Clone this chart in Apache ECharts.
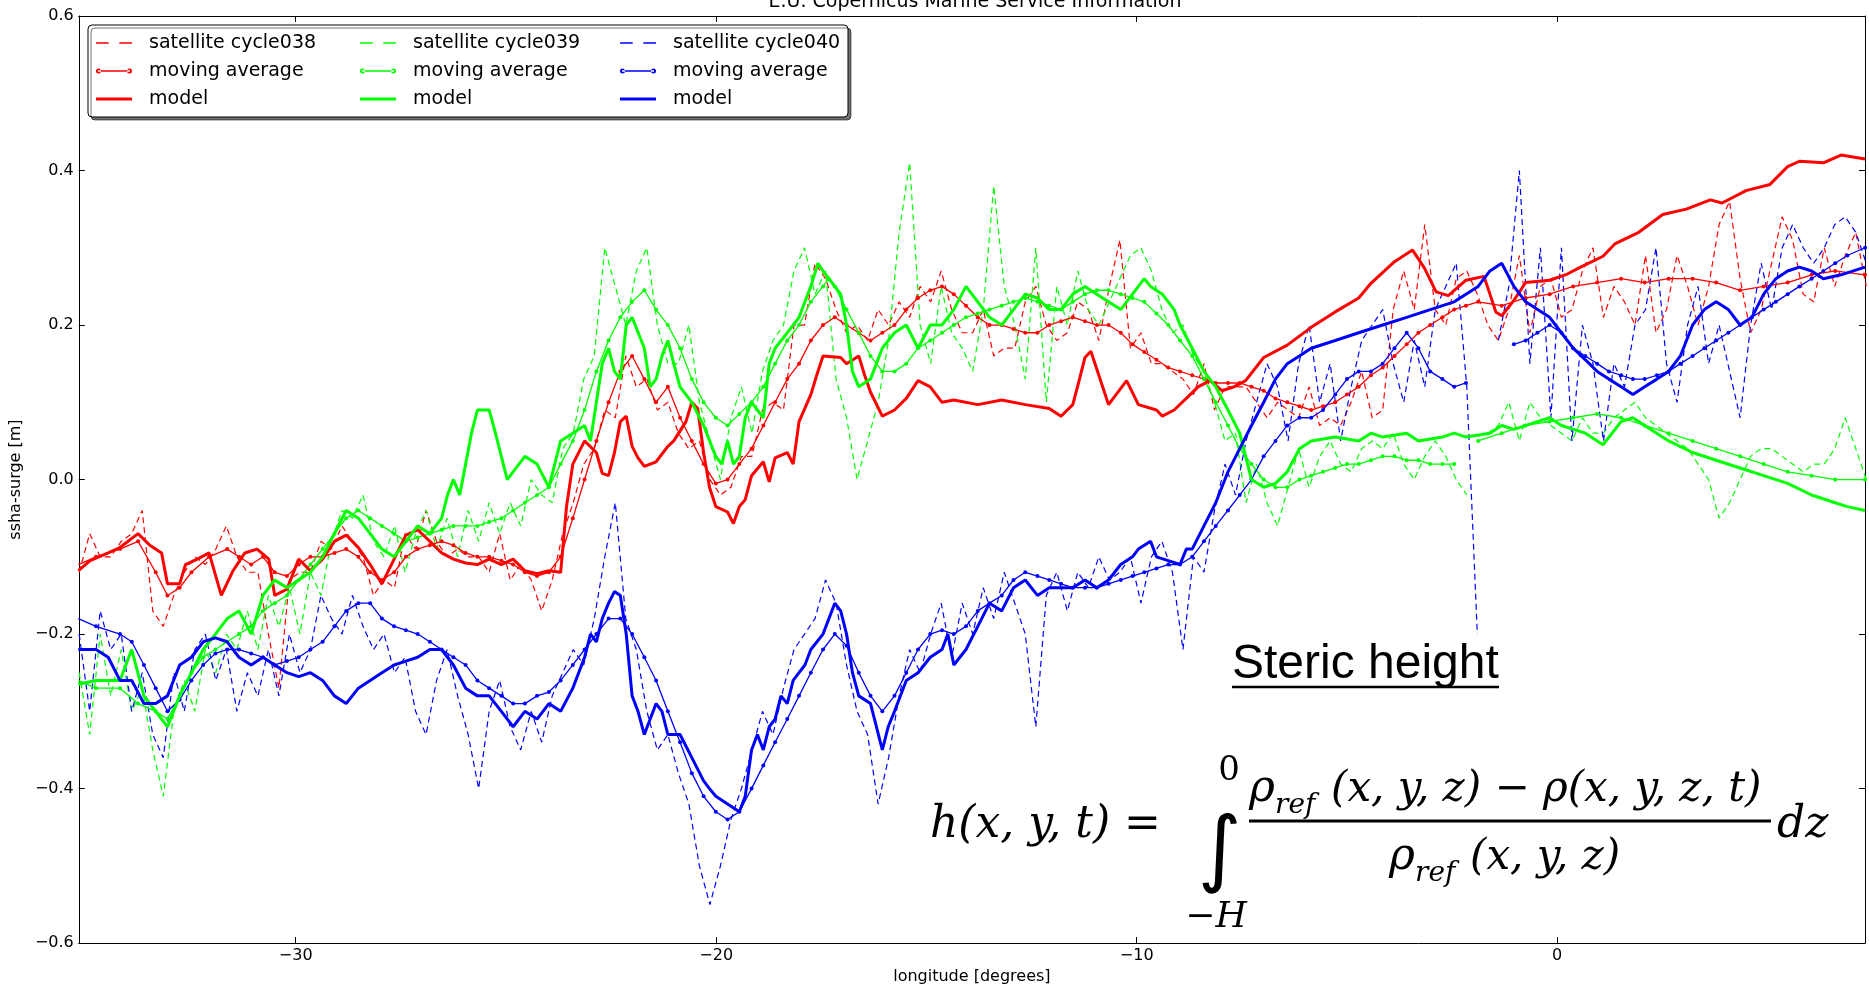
<!DOCTYPE html>
<html><head><meta charset="utf-8">
<script src="https://cdn.jsdelivr.net/npm/echarts@6/dist/echarts.min.js"></script>
<style>html,body{margin:0;padding:0;background:#fff}#c{width:1869px;height:990px}</style>
</head><body><div id="c"></div>
<script>
// shared along-track longitudes of the satellite samples
const trackLon = [
-35.15,-34.9,-34.65,-34.4,-34.15,-33.9,-33.65,-33.4,-33.15,-32.9,
-32.65,-32.4,-32.15,-31.9,-31.65,-31.4,-31.15,-30.9,-30.65,-30.4,
-30.15,-29.9,-29.65,-29.4,-29.15,-28.9,-28.65,-28.4,-28.15,-27.9,
-27.65,-27.4,-27.15,-26.9,-26.65,-26.4,-26.15,-25.9,-25.65,-25.4,
-25.15,-24.9,-24.65,-24.4,-24.15,-23.9,-23.65,-23.4,-23.15,-22.9,
-22.65,-22.4,-22.15,-21.9,-21.65,-21.4,-21.15,-20.9,-20.65,-20.4,
-20.15,-19.9,-19.65,-19.4,-19.15,-18.9,-18.65,-18.4,-18.15,-17.9,
-17.65,-17.4,-17.15,-16.9,-16.65,-16.4,-16.15,-15.9,-15.65,-15.4,
-15.15,-14.9,-14.65,-14.4,-14.15,-13.9,-13.65,-13.4,-13.15,-12.9,
-12.65,-12.4,-12.15,-11.9,-11.65,-11.4,-11.15,-10.9,-10.65,-10.4,
-10.15,-9.9,-9.65,-9.4,-9.15,-8.9,-8.65,-8.4,-8.15,-7.9,
-7.65,-7.4,-7.15,-6.9,-6.65,-6.4,-6.15,-5.9,-5.65,-5.4,
-5.15,-4.9,-4.65,-4.4,-4.15,-3.9,-3.65,-3.4,-3.15,-2.9,
-2.65,-2.4,-2.15,-1.9,-1.65,-1.4,-1.15,-0.9,-0.65,-0.4,
-0.15,0.1,0.35,0.6,0.85,1.1,1.35,1.6,1.85,2.1,
2.35,2.6,2.85,3.1,3.35,3.6,3.85,4.1,4.35,4.6,
4.85,5.1,5.35,5.6,5.85,6.1,6.35,6.6,6.85,7.1,
7.35];

const sat038 = [
-0.12,-0.07,-0.1,-0.1,-0.08,-0.07,-0.04,-0.17,-0.19,-0.15,
-0.12,-0.1,-0.11,-0.09,-0.06,-0.1,-0.12,-0.12,-0.2,-0.27,
-0.13,-0.12,-0.12,-0.08,-0.09,-0.06,-0.08,-0.1,-0.15,-0.13,
-0.14,-0.07,-0.09,-0.04,-0.08,-0.1,-0.09,-0.1,-0.1,-0.12,
-0.07,-0.13,-0.11,-0.13,-0.17,-0.13,-0.07,-0.03,0.02,0.04,
0.09,0.08,0.16,0.12,0.13,0.09,0.1,0.06,0.04,0.05,
0.0,-0.02,-0.01,0.03,0.03,0.09,0.1,0.09,0.2,0.2,
0.28,0.26,0.22,0.19,0.2,0.18,0.22,0.2,0.23,0.21,
0.25,0.23,0.27,0.22,0.19,0.19,0.22,0.16,0.17,0.17,
0.23,0.25,0.2,0.18,0.19,0.23,0.22,0.18,0.25,0.31,
0.17,0.19,0.15,0.15,0.14,0.13,0.11,0.15,0.09,0.12,
0.12,0.12,0.1,0.08,0.1,0.09,0.08,0.12,0.07,0.08,
0.07,0.1,0.14,0.08,0.09,0.22,0.27,0.22,0.33,0.22,
0.2,0.26,0.27,0.24,0.2,0.18,0.22,0.29,0.19,0.25,
0.26,0.21,0.22,0.27,0.3,0.21,0.25,0.23,0.2,0.29,
0.19,0.22,0.29,0.25,0.2,0.25,0.33,0.36,0.26,0.19,
0.22,0.28,0.34,0.31,0.24,0.23,0.3,0.25,0.29,0.32,
0.25];

const sat039 = [
-0.25,-0.33,-0.2,-0.28,-0.22,-0.3,-0.27,-0.35,-0.41,-0.3,
-0.26,-0.3,-0.22,-0.25,-0.2,-0.22,-0.17,-0.22,-0.15,-0.19,
-0.14,-0.2,-0.12,-0.15,-0.08,-0.04,-0.05,-0.02,-0.08,-0.1,
-0.06,-0.12,-0.07,-0.04,-0.09,-0.05,-0.1,-0.04,-0.08,-0.03,
-0.07,-0.03,-0.06,0.0,-0.02,-0.03,0.04,0.06,0.13,0.16,
0.3,0.25,0.2,0.27,0.3,0.2,0.15,0.15,0.2,0.1,
0.05,0.0,0.08,0.12,0.06,0.14,0.18,0.2,0.27,0.3,
0.24,0.27,0.13,0.08,0.0,0.05,0.1,0.18,0.32,0.41,
0.2,0.15,0.25,0.19,0.17,0.14,0.22,0.38,0.25,0.2,
0.13,0.3,0.1,0.25,0.2,0.27,0.22,0.2,0.23,0.26,
0.29,0.3,0.27,0.22,0.19,0.2,0.16,0.14,0.1,0.05,
0.06,-0.03,0.02,-0.03,-0.06,-0.01,0.04,-0.01,0.03,0.05,
0.02,0.01,0.04,0.05,0.04,0.06,0.02,0.0,0.03,0.05,
0.03,0.0,-0.02,null,0.06,0.07,0.1,0.05,0.1,0.08,
0.07,0.06,0.05,0.08,0.06,0.06,0.08,0.09,0.1,0.08,
0.07,0.06,0.05,0.04,0.02,0.0,-0.05,-0.03,0.0,0.03,
0.04,0.04,0.03,0.02,0.01,0.02,0.02,0.04,0.08,0.04,
0.0];

const sat040 = [
-0.2,-0.3,-0.17,-0.22,-0.2,-0.3,-0.25,-0.33,-0.36,-0.25,
-0.3,-0.22,-0.2,-0.26,-0.22,-0.3,-0.25,-0.28,-0.22,-0.28,
-0.2,-0.25,-0.22,-0.15,-0.18,-0.2,-0.15,-0.19,-0.22,-0.2,
-0.25,-0.23,-0.3,-0.33,-0.26,-0.22,-0.28,-0.33,-0.4,-0.3,
-0.26,-0.32,-0.35,-0.3,-0.34,-0.28,-0.25,-0.22,-0.24,-0.18,
-0.1,-0.03,-0.18,-0.22,-0.3,-0.35,-0.33,-0.38,-0.42,-0.5,
-0.55,-0.5,-0.44,-0.4,-0.35,-0.3,-0.33,-0.27,-0.22,-0.2,
-0.18,-0.13,-0.16,-0.24,-0.3,-0.33,-0.42,-0.36,-0.28,-0.22,
-0.25,-0.2,-0.16,-0.23,-0.16,-0.2,-0.14,-0.18,-0.12,-0.16,
-0.2,-0.32,-0.15,-0.12,-0.17,-0.12,-0.14,-0.1,-0.13,-0.12,
-0.1,-0.16,-0.1,-0.08,-0.12,-0.22,-0.1,-0.12,-0.04,0.02,
-0.02,0.05,0.1,0.15,0.12,0.05,0.15,0.2,0.1,0.15,
0.05,0.12,0.18,0.2,0.22,0.15,0.1,0.18,0.12,0.22,
0.25,0.28,0.12,-0.2,null,0.18,0.25,0.4,0.15,0.3,
0.08,0.3,0.05,0.2,0.15,0.05,0.15,0.12,0.2,0.22,
0.3,0.15,0.1,0.2,0.25,0.15,0.2,0.14,0.08,0.2,
0.28,0.22,0.3,0.33,0.3,0.28,0.3,0.33,0.34,0.32,
0.28];

const ma038 = [[-35.17,-0.11],[-34.75,-0.1],[-34.18,-0.09],[-33.75,-0.08],[-33.33,-0.12],[-33.05,-0.15],[-32.76,-0.14],[-32.48,-0.12],[-32.06,-0.1],[-31.63,-0.09],[-31.35,-0.1],[-31.06,-0.11],[-30.78,-0.1],[-30.5,-0.12],[-30.21,-0.125],[-29.93,-0.11],[-29.65,-0.1],[-29.36,-0.1],[-29.08,-0.095],[-28.8,-0.09],[-28.51,-0.1],[-28.23,-0.12],[-27.95,-0.13],[-27.66,-0.12],[-27.38,-0.1],[-27.1,-0.09],[-26.81,-0.085],[-26.53,-0.08],[-26.25,-0.085],[-25.96,-0.095],[-25.68,-0.1],[-25.4,-0.1],[-25.11,-0.105],[-24.83,-0.11],[-24.55,-0.12],[-24.26,-0.125],[-23.98,-0.12],[-23.7,-0.1],[-23.41,-0.05],[-23.13,0.0],[-22.85,0.05],[-22.56,0.1],[-22.28,0.14],[-22.0,0.16],[-21.71,0.13],[-21.43,0.1],[-21.15,0.12],[-20.86,0.08],[-20.58,0.05],[-20.3,0.02],[-20.01,-0.005],[-19.73,0.0],[-19.45,0.02],[-19.16,0.04],[-18.88,0.07],[-18.6,0.1],[-18.31,0.13],[-18.03,0.15],[-17.75,0.18],[-17.46,0.2],[-17.18,0.21],[-16.9,0.2],[-16.61,0.19],[-16.33,0.18],[-16.05,0.19],[-15.76,0.2],[-15.48,0.22],[-15.2,0.235],[-14.91,0.245],[-14.63,0.25],[-14.35,0.24],[-14.06,0.225],[-13.78,0.21],[-13.5,0.2],[-13.21,0.2],[-12.93,0.195],[-12.65,0.19],[-12.36,0.19],[-12.08,0.2],[-11.8,0.205],[-11.52,0.21],[-11.23,0.205],[-10.95,0.2],[-10.67,0.2],[-10.38,0.19],[-10.1,0.175],[-9.82,0.165],[-9.53,0.155],[-9.25,0.145],[-8.97,0.14],[-8.68,0.135],[-8.4,0.13],[-8.12,0.125],[-7.83,0.125],[-7.55,0.125],[-7.27,0.12],[-6.98,0.115],[-6.7,0.105],[-6.42,0.1],[-6.13,0.095],[-5.85,0.09],[-5.57,0.095],[-5.28,0.1],[-5.0,0.11],[-4.72,0.12],[-4.43,0.135],[-4.15,0.145],[-3.87,0.16],[-3.58,0.175],[-3.3,0.19],[-3.02,0.2],[-2.73,0.21],[-2.45,0.22],[-2.17,0.225],[-1.88,0.23],[-1.32,0.225],[-0.75,0.235],[-0.18,0.24],[0.38,0.25],[0.95,0.255],[1.52,0.26],[2.08,0.255],[2.65,0.26],[3.22,0.26],[3.78,0.255],[4.35,0.245],[4.91,0.25],[5.48,0.255],[6.05,0.265],[6.61,0.27],[7.32,0.265]];

const ma039 = [[-35.17,-0.26],[-34.75,-0.27],[-34.18,-0.27],[-33.75,-0.29],[-33.33,-0.3],[-33.05,-0.31],[-32.76,-0.28],[-32.48,-0.25],[-32.2,-0.23],[-31.91,-0.22],[-31.63,-0.21],[-31.35,-0.2],[-31.06,-0.19],[-30.78,-0.17],[-30.5,-0.16],[-30.21,-0.15],[-29.93,-0.13],[-29.65,-0.11],[-29.36,-0.09],[-29.08,-0.07],[-28.8,-0.05],[-28.51,-0.04],[-28.23,-0.05],[-27.95,-0.06],[-27.66,-0.07],[-27.38,-0.08],[-27.1,-0.075],[-26.81,-0.07],[-26.53,-0.065],[-26.25,-0.06],[-25.96,-0.06],[-25.68,-0.06],[-25.4,-0.055],[-25.11,-0.05],[-24.83,-0.04],[-24.55,-0.03],[-24.26,-0.02],[-23.98,-0.01],[-23.7,0.02],[-23.41,0.05],[-23.13,0.09],[-22.85,0.14],[-22.56,0.18],[-22.28,0.21],[-22.0,0.23],[-21.71,0.245],[-21.43,0.22],[-21.15,0.2],[-20.86,0.17],[-20.58,0.13],[-20.3,0.1],[-20.01,0.08],[-19.73,0.07],[-19.45,0.085],[-19.16,0.1],[-18.88,0.12],[-18.6,0.15],[-18.31,0.18],[-18.03,0.2],[-17.75,0.23],[-17.46,0.25],[-17.32,0.26],[-17.18,0.25],[-16.9,0.22],[-16.61,0.19],[-16.33,0.16],[-16.05,0.14],[-15.76,0.14],[-15.48,0.15],[-15.2,0.17],[-14.91,0.18],[-14.63,0.19],[-14.35,0.2],[-14.06,0.21],[-13.78,0.215],[-13.5,0.22],[-13.21,0.225],[-12.93,0.23],[-12.65,0.235],[-12.36,0.23],[-12.08,0.225],[-11.8,0.22],[-11.52,0.23],[-11.23,0.24],[-10.95,0.245],[-10.67,0.245],[-10.38,0.24],[-10.1,0.235],[-9.82,0.23],[-9.53,0.215],[-9.25,0.2],[-8.97,0.18],[-8.68,0.16],[-8.4,0.13],[-8.12,0.1],[-7.83,0.07],[-7.55,0.04],[-7.27,0.02],[-6.98,0.0],[-6.7,-0.01],[-6.42,-0.01],[-6.13,0.0],[-5.85,0.005],[-5.57,0.01],[-5.28,0.015],[-5.0,0.02],[-4.72,0.02],[-4.43,0.025],[-4.15,0.03],[-3.87,0.03],[-3.58,0.025],[-3.3,0.025],[-3.02,0.02],[-2.73,0.02],[-2.45,0.02],[-2.2,null],[-1.88,0.05],[-1.32,0.06],[-0.75,0.07],[-0.18,0.075],[0.38,0.08],[0.95,0.085],[1.52,0.08],[2.08,0.07],[2.65,0.06],[3.22,0.05],[3.78,0.04],[4.35,0.03],[4.91,0.02],[5.48,0.01],[6.05,0.005],[6.61,0.0],[7.32,0.0]];

const ma040 = [[-35.17,-0.18],[-34.75,-0.19],[-34.18,-0.2],[-33.9,-0.21],[-33.61,-0.24],[-33.33,-0.27],[-33.05,-0.3],[-32.76,-0.285],[-32.48,-0.26],[-32.2,-0.24],[-31.91,-0.225],[-31.63,-0.22],[-31.35,-0.22],[-31.06,-0.225],[-30.78,-0.23],[-30.5,-0.24],[-30.21,-0.235],[-29.93,-0.23],[-29.65,-0.22],[-29.36,-0.21],[-29.08,-0.19],[-28.8,-0.17],[-28.51,-0.16],[-28.23,-0.16],[-27.95,-0.18],[-27.66,-0.19],[-27.38,-0.195],[-27.1,-0.2],[-26.81,-0.21],[-26.53,-0.22],[-26.25,-0.23],[-25.96,-0.24],[-25.68,-0.26],[-25.4,-0.27],[-25.11,-0.28],[-24.83,-0.29],[-24.55,-0.29],[-24.26,-0.28],[-23.98,-0.275],[-23.7,-0.26],[-23.41,-0.24],[-23.13,-0.22],[-22.85,-0.2],[-22.56,-0.18],[-22.28,-0.18],[-22.0,-0.2],[-21.71,-0.23],[-21.43,-0.26],[-21.15,-0.3],[-20.86,-0.34],[-20.58,-0.38],[-20.3,-0.41],[-20.01,-0.43],[-19.73,-0.44],[-19.45,-0.43],[-19.16,-0.4],[-18.88,-0.37],[-18.6,-0.34],[-18.31,-0.31],[-18.03,-0.28],[-17.75,-0.25],[-17.46,-0.22],[-17.18,-0.2],[-16.9,-0.215],[-16.61,-0.25],[-16.33,-0.28],[-16.05,-0.3],[-15.76,-0.28],[-15.48,-0.25],[-15.2,-0.22],[-14.91,-0.2],[-14.63,-0.195],[-14.35,-0.2],[-14.06,-0.19],[-13.78,-0.17],[-13.5,-0.16],[-13.21,-0.15],[-12.93,-0.13],[-12.65,-0.12],[-12.36,-0.125],[-12.08,-0.13],[-11.8,-0.135],[-11.52,-0.14],[-11.23,-0.14],[-10.95,-0.14],[-10.67,-0.135],[-10.38,-0.13],[-10.1,-0.125],[-9.82,-0.12],[-9.53,-0.115],[-9.25,-0.11],[-8.97,-0.11],[-8.68,-0.1],[-8.4,-0.08],[-8.12,-0.06],[-7.83,-0.04],[-7.55,-0.02],[-7.27,0.0],[-6.98,0.03],[-6.7,0.05],[-6.42,0.07],[-6.13,0.08],[-5.85,0.08],[-5.57,0.09],[-5.28,0.11],[-5.0,0.13],[-4.72,0.14],[-4.43,0.14],[-4.15,0.15],[-3.87,0.17],[-3.58,0.19],[-3.3,0.17],[-3.02,0.14],[-2.73,0.13],[-2.45,0.12],[-2.17,0.125],[-1.6,null],[-1.03,0.175],[-0.75,0.18],[-0.47,0.19],[-0.18,0.2],[0.1,0.19],[0.38,0.17],[0.67,0.16],[0.95,0.15],[1.23,0.14],[1.52,0.135],[1.8,0.13],[2.08,0.13],[2.37,0.135],[2.65,0.14],[2.93,0.15],[3.22,0.16],[3.5,0.17],[3.78,0.18],[4.07,0.19],[4.35,0.2],[4.63,0.21],[4.91,0.22],[5.2,0.23],[5.48,0.24],[5.76,0.25],[6.05,0.26],[6.33,0.27],[6.61,0.28],[6.9,0.29],[7.32,0.3]];

const model038 = [[-35.17,-0.118],[-34.89,-0.105],[-34.46,-0.095],[-34.18,-0.088],[-33.75,-0.07],[-33.47,-0.085],[-33.19,-0.095],[-33.05,-0.135],[-32.76,-0.135],[-32.62,-0.11],[-32.34,-0.103],[-32.06,-0.095],[-31.77,-0.15],[-31.49,-0.118],[-31.21,-0.095],[-30.92,-0.09],[-30.64,-0.103],[-30.5,-0.15],[-30.21,-0.142],[-29.93,-0.103],[-29.65,-0.118],[-29.36,-0.103],[-29.08,-0.08],[-28.8,-0.072],[-28.51,-0.088],[-28.23,-0.11],[-27.95,-0.135],[-27.66,-0.103],[-27.38,-0.072],[-27.1,-0.065],[-26.81,-0.08],[-26.53,-0.095],[-26.25,-0.103],[-25.96,-0.108],[-25.68,-0.11],[-25.4,-0.103],[-25.11,-0.11],[-24.83,-0.103],[-24.55,-0.118],[-24.26,-0.122],[-23.98,-0.118],[-23.7,-0.12],[-23.56,-0.035],[-23.41,0.02],[-23.13,0.05],[-22.85,0.035],[-22.71,0.008],[-22.56,0.005],[-22.42,0.035],[-22.28,0.075],[-22.14,0.082],[-22.0,0.043],[-21.86,0.028],[-21.71,0.017],[-21.43,0.023],[-21.15,0.043],[-21.01,0.05],[-20.72,0.075],[-20.58,0.1],[-20.44,0.092],[-20.3,0.035],[-20.16,-0.01],[-20.01,-0.035],[-19.73,-0.042],[-19.59,-0.057],[-19.45,-0.035],[-19.31,-0.026],[-19.16,0.005],[-18.88,0.023],[-18.74,-0.003],[-18.6,0.028],[-18.31,0.035],[-18.17,0.02],[-18.03,0.075],[-17.75,0.11],[-17.61,0.135],[-17.46,0.16],[-17.04,0.158],[-16.9,0.15],[-16.61,0.16],[-16.47,0.135],[-16.33,0.113],[-16.05,0.082],[-15.76,0.09],[-15.48,0.105],[-15.2,0.128],[-14.91,0.12],[-14.63,0.1],[-14.35,0.103],[-13.78,0.097],[-13.21,0.103],[-12.65,0.097],[-12.08,0.092],[-11.8,0.082],[-11.52,0.097],[-11.37,0.128],[-11.23,0.158],[-11.09,0.166],[-10.95,0.143],[-10.67,0.097],[-10.24,0.128],[-9.96,0.097],[-9.53,0.09],[-9.39,0.082],[-9.11,0.09],[-8.82,0.105],[-8.54,0.12],[-8.26,0.128],[-7.97,0.115],[-7.69,0.12],[-7.41,0.128],[-6.98,0.158],[-6.42,0.174],[-5.85,0.197],[-5.28,0.217],[-4.72,0.235],[-4.43,0.254],[-3.87,0.282],[-3.44,0.297],[-3.16,0.274],[-2.88,0.243],[-2.59,0.238],[-2.17,0.258],[-1.74,0.263],[-1.46,0.217],[-1.32,0.212],[-1.03,0.232],[-0.75,0.255],[-0.18,0.258],[0.24,0.266],[0.52,0.274],[1.09,0.289],[1.37,0.305],[1.94,0.32],[2.51,0.343],[3.07,0.35],[3.64,0.362],[3.92,0.358],[4.49,0.374],[5.06,0.382],[5.48,0.405],[5.76,0.412],[6.33,0.41],[6.75,0.42],[7.32,0.415]];

const model039 = [[-35.17,-0.265],[-34.75,-0.26],[-34.18,-0.26],[-33.9,-0.22],[-33.61,-0.28],[-33.33,-0.3],[-33.05,-0.32],[-32.76,-0.28],[-32.48,-0.25],[-32.2,-0.22],[-31.91,-0.2],[-31.63,-0.18],[-31.35,-0.17],[-31.06,-0.2],[-30.78,-0.15],[-30.5,-0.13],[-30.21,-0.14],[-29.93,-0.13],[-29.65,-0.12],[-29.36,-0.1],[-29.08,-0.07],[-28.8,-0.04],[-28.51,-0.05],[-28.23,-0.07],[-27.95,-0.09],[-27.66,-0.1],[-27.38,-0.08],[-27.1,-0.06],[-26.81,-0.07],[-26.53,-0.05],[-26.39,-0.02],[-26.25,0.0],[-26.1,-0.02],[-25.96,0.02],[-25.82,0.06],[-25.68,0.09],[-25.4,0.09],[-25.25,0.06],[-25.11,0.03],[-24.97,0.0],[-24.83,0.01],[-24.55,0.03],[-24.26,0.02],[-23.98,-0.01],[-23.7,0.05],[-23.41,0.06],[-23.13,0.07],[-22.99,0.05],[-22.85,0.1],[-22.71,0.15],[-22.56,0.17],[-22.42,0.14],[-22.28,0.13],[-22.14,0.2],[-22.0,0.21],[-21.71,0.17],[-21.57,0.12],[-21.43,0.13],[-21.29,0.16],[-21.15,0.18],[-21.01,0.15],[-20.86,0.12],[-20.58,0.1],[-20.3,0.07],[-20.01,0.03],[-19.87,0.02],[-19.73,0.05],[-19.59,0.02],[-19.45,0.03],[-19.31,0.08],[-19.16,0.1],[-18.88,0.08],[-18.74,0.15],[-18.6,0.17],[-18.31,0.19],[-18.03,0.21],[-17.75,0.25],[-17.58,0.28],[-17.46,0.27],[-17.18,0.25],[-17.04,0.24],[-16.9,0.2],[-16.76,0.14],[-16.61,0.12],[-16.33,0.13],[-16.05,0.17],[-15.76,0.19],[-15.48,0.2],[-15.2,0.17],[-14.91,0.2],[-14.63,0.2],[-14.35,0.22],[-14.06,0.25],[-13.78,0.23],[-13.5,0.21],[-13.21,0.2],[-12.93,0.22],[-12.65,0.24],[-12.36,0.235],[-12.08,0.22],[-11.8,0.22],[-11.52,0.24],[-11.23,0.25],[-10.95,0.24],[-10.67,0.23],[-10.38,0.22],[-10.1,0.24],[-9.82,0.26],[-9.67,0.25],[-9.39,0.24],[-9.11,0.22],[-8.97,0.2],[-8.68,0.17],[-8.4,0.14],[-8.12,0.12],[-7.83,0.09],[-7.55,0.06],[-7.41,0.03],[-7.27,0.0],[-6.98,-0.01],[-6.7,-0.005],[-6.42,0.01],[-6.13,0.04],[-5.85,0.05],[-5.28,0.055],[-4.72,0.05],[-4.43,0.06],[-4.15,0.055],[-3.58,0.06],[-3.3,0.05],[-2.73,0.055],[-2.45,0.06],[-2.17,0.055],[-1.6,0.06],[-1.32,0.07],[-1.03,0.065],[-0.47,0.075],[-0.18,0.08],[0.1,0.07],[0.67,0.06],[1.09,0.045],[1.52,0.075],[1.8,0.08],[2.08,0.07],[2.65,0.05],[3.22,0.035],[3.78,0.025],[4.35,0.015],[4.91,0.005],[5.48,-0.005],[6.05,-0.02],[6.61,-0.03],[6.9,-0.035],[7.32,-0.04]];

const model040 = [[-35.17,-0.22],[-34.75,-0.22],[-34.46,-0.23],[-34.18,-0.26],[-33.9,-0.26],[-33.61,-0.29],[-33.33,-0.29],[-33.05,-0.28],[-32.76,-0.24],[-32.48,-0.23],[-32.2,-0.21],[-31.91,-0.205],[-31.63,-0.21],[-31.35,-0.23],[-31.06,-0.24],[-30.78,-0.23],[-30.5,-0.24],[-30.21,-0.25],[-29.93,-0.255],[-29.65,-0.25],[-29.36,-0.26],[-29.08,-0.28],[-28.8,-0.29],[-28.51,-0.27],[-28.23,-0.26],[-27.95,-0.25],[-27.66,-0.24],[-27.38,-0.235],[-27.1,-0.23],[-26.81,-0.22],[-26.53,-0.22],[-26.25,-0.24],[-25.96,-0.27],[-25.68,-0.28],[-25.4,-0.28],[-25.11,-0.3],[-24.83,-0.32],[-24.55,-0.3],[-24.26,-0.31],[-23.98,-0.29],[-23.7,-0.3],[-23.41,-0.27],[-23.13,-0.23],[-22.99,-0.2],[-22.85,-0.21],[-22.71,-0.18],[-22.56,-0.16],[-22.42,-0.145],[-22.28,-0.15],[-22.14,-0.2],[-22.0,-0.28],[-21.86,-0.3],[-21.71,-0.33],[-21.57,-0.31],[-21.43,-0.29],[-21.29,-0.3],[-21.15,-0.33],[-20.86,-0.33],[-20.58,-0.36],[-20.3,-0.39],[-20.16,-0.4],[-20.01,-0.41],[-19.73,-0.42],[-19.45,-0.43],[-19.31,-0.41],[-19.16,-0.35],[-19.02,-0.33],[-18.88,-0.35],[-18.74,-0.32],[-18.6,-0.31],[-18.46,-0.28],[-18.31,-0.29],[-18.17,-0.26],[-18.03,-0.25],[-17.89,-0.24],[-17.75,-0.22],[-17.46,-0.2],[-17.32,-0.18],[-17.18,-0.16],[-17.04,-0.17],[-16.9,-0.2],[-16.76,-0.25],[-16.61,-0.28],[-16.33,-0.29],[-16.05,-0.35],[-15.91,-0.32],[-15.76,-0.3],[-15.48,-0.26],[-15.2,-0.25],[-14.91,-0.23],[-14.63,-0.22],[-14.49,-0.2],[-14.35,-0.24],[-14.06,-0.22],[-13.78,-0.19],[-13.5,-0.16],[-13.21,-0.17],[-12.93,-0.14],[-12.65,-0.13],[-12.36,-0.15],[-12.08,-0.14],[-11.52,-0.14],[-11.23,-0.13],[-10.95,-0.14],[-10.67,-0.13],[-10.38,-0.11],[-10.1,-0.1],[-9.96,-0.09],[-9.67,-0.08],[-9.53,-0.1],[-9.25,-0.105],[-8.97,-0.11],[-8.82,-0.09],[-8.68,-0.09],[-8.4,-0.06],[-8.12,-0.03],[-7.83,0.01],[-7.55,0.04],[-7.27,0.07],[-6.98,0.1],[-6.7,0.13],[-6.42,0.15],[-6.13,0.16],[-5.85,0.17],[-5.28,0.18],[-4.72,0.19],[-4.15,0.2],[-3.58,0.21],[-3.02,0.22],[-2.45,0.23],[-1.88,0.25],[-1.6,0.27],[-1.32,0.28],[-1.03,0.25],[-0.75,0.23],[-0.18,0.21],[0.1,0.19],[0.38,0.17],[0.67,0.155],[0.95,0.14],[1.23,0.13],[1.52,0.12],[1.8,0.11],[2.08,0.12],[2.37,0.13],[2.65,0.14],[2.93,0.16],[3.22,0.2],[3.5,0.22],[3.78,0.23],[4.07,0.22],[4.35,0.2],[4.63,0.21],[4.91,0.24],[5.2,0.26],[5.48,0.27],[5.76,0.275],[6.05,0.27],[6.33,0.26],[6.75,0.265],[7.32,0.275]];

const xTicks = [-30, -20, -10, 0];

const RED = '#ff0000', GREEN = '#00ff00', BLUE = '#0000ff';
const FONT = 'DejaVu Sans';
const minus = s => String(s).replace('-', '\u2212');

function clean(arr){ return arr.map(p => [p[0], p[1] == null ? '-' : p[1]]); }
function track(vals){ return trackLon.map((x,i) => [x, vals[i] == null ? '-' : vals[i]]); }

function satSeries(name, color, data){
  return {name, type:'line', data, showSymbol:false, symbol:'none', animation:false,
    lineStyle:{color, width:1.2, type:[6,4]}, itemStyle:{color}, z:2};
}
function maSeries(name, color, data){
  return {name, type:'line', data, showSymbol:true, symbol:'circle', symbolSize:4, animation:false,
    lineStyle:{color, width:1.3}, itemStyle:{color, borderWidth:0}, z:3};
}
function modelSeries(name, color, data){
  return {name, type:'line', data, showSymbol:false, symbol:'none', animation:false,
    lineStyle:{color, width:3}, itemStyle:{color}, z:4};
}

const series = [
  satSeries('satellite cycle038', RED, track(sat038)),
  maSeries('moving average #1', RED, clean(ma038)),
  modelSeries('model #1', RED, clean(model038)),
  satSeries('satellite cycle039', GREEN, track(sat039)),
  maSeries('moving average #2', GREEN, clean(ma039)),
  modelSeries('model #2', GREEN, clean(model039)),
  satSeries('satellite cycle040', BLUE, track(sat040)),
  maSeries('moving average #3', BLUE, clean(ma040)),
  modelSeries('model #3', BLUE, clean(model040))
];

// legend key glyphs (dashed line, line with end markers, thick line)
const ICON_SAT = 'path://M0,0h12v1.4h-12z M22,0h12v1.4h-12z';
const ICON_MA = 'path://M2,2.5h32v1.3h-32z M0,3.15a2.5,2.5 0 1,0 5,0a2.5,2.5 0 1,0 -5,0z M31,3.15a2.5,2.5 0 1,0 5,0a2.5,2.5 0 1,0 -5,0z';
const ICON_MODEL = 'path://M0,0h36v3h-36z';

function legend(left, k, satName){
  return {orient:'vertical', left, top:33, padding:0, itemWidth:36, itemHeight:14, itemGap:8,
    data:[{name:satName, icon:ICON_SAT}, {name:'moving average #' + k, icon:ICON_MA}, {name:'model #' + k, icon:ICON_MODEL}],
    selectedMode:false, z:10, itemStyle:{borderWidth:0},
    formatter: n => n.replace(/ #\d$/, ''),
    textStyle:{fontFamily:FONT, fontSize:19, color:'#000', lineHeight:20, padding:[0,0,0,12]}};
}

const xBase = {type:'value', min:-35.16, max:7.32, splitLine:{show:false}};
const tickStyle = {show:true, inside:true, length:6, customValues:xTicks, lineStyle:{color:'#000', width:1}};
const T = (x, y, text, font, align, z) => ({type:'text', z:z || 6, x, y,
  style:{text, font, fill:'#000', textAlign:align || 'left', align:align || 'left', textVerticalAlign:'middle', verticalAlign:'middle'}});

const option = {
  backgroundColor:'#fff',
  animation:false,
  grid:{left:78, right:4, top:16, bottom:45, containLabel:false},
  legend:[ legend(96, 1, 'satellite cycle038'), legend(360, 2, 'satellite cycle039'), legend(620, 3, 'satellite cycle040') ],
  xAxis:[
    Object.assign({}, xBase, {position:'bottom',
      axisLine:{show:true, onZero:false, lineStyle:{color:'#000', width:1}},
      axisTick:tickStyle,
      axisLabel:{show:true, customValues:xTicks, formatter:v => minus(v), color:'#000', fontSize:16, fontFamily:FONT, margin:5},
      name:'longitude [degrees]', nameLocation:'middle', nameGap:24,
      nameTextStyle:{fontFamily:FONT, fontSize:16, color:'#000'}}),
    Object.assign({}, xBase, {position:'top',
      axisLine:{show:true, onZero:false, lineStyle:{color:'#000', width:1}},
      axisTick:tickStyle, axisLabel:{show:false}})
  ],
  yAxis:[
    {type:'value', min:-0.6, max:0.6, interval:0.2, position:'left', splitLine:{show:false},
      axisLine:{show:true, onZero:false, lineStyle:{color:'#000', width:1}},
      axisTick:{show:true, inside:true, length:6, lineStyle:{color:'#000'}},
      axisLabel:{formatter:v => minus(v.toFixed(1)), color:'#000', fontSize:16, fontFamily:FONT, margin:5},
      name:'ssha-surge [m]', nameLocation:'middle', nameGap:48, nameRotate:90,
      nameTextStyle:{fontFamily:FONT, fontSize:16, color:'#000'}},
    {type:'value', min:-0.6, max:0.6, interval:0.2, position:'right', splitLine:{show:false},
      axisLine:{show:true, onZero:false, lineStyle:{color:'#000', width:1}},
      axisTick:{show:true, inside:true, length:6, lineStyle:{color:'#000'}},
      axisLabel:{show:false}}
  ],
  series,
  graphic:[
    {type:'rect', z:5, shape:{x:88, y:25, width:760, height:92, r:4},
      style:{fill:'#fff', stroke:'#000', lineWidth:1, shadowColor:'rgba(0,0,0,0.55)', shadowOffsetX:3, shadowOffsetY:3, shadowBlur:0}},
    T(975, 2, 'E.U. Copernicus Marine Service Information', '19px "DejaVu Sans"', 'center', 5),
    T(1232, 665, 'Steric height', '48px "Liberation Sans"'),
    {type:'line', z:6, shape:{x1:1232, y1:687, x2:1499, y2:687}, style:{stroke:'#000', lineWidth:2.5}},
    T(930, 826, 'h(x, y, t) =', 'italic 44px "DejaVu Serif"'),
    T(1220, 854, '\u222B', '84px "DejaVu Sans"', 'center'),
    T(1229, 771, '0', '34px "DejaVu Serif"', 'center'),
    T(1216, 918, '\u2212H', 'italic 36px "DejaVu Serif"', 'center'),
    T(1249, 790, '\u03C1', 'italic 44px "DejaVu Serif"'),
    T(1275, 806, 'ref', 'italic 28px "DejaVu Serif"'),
    T(1331, 790, '(x, y, z) \u2212 \u03C1(x, y, z, t)', 'italic 42px "DejaVu Serif"'),
    {type:'line', z:6, shape:{x1:1249, y1:821, x2:1771, y2:821}, style:{stroke:'#000', lineWidth:3}},
    T(1389, 858, '\u03C1', 'italic 44px "DejaVu Serif"'),
    T(1415, 874, 'ref', 'italic 28px "DejaVu Serif"'),
    T(1470, 858, '(x, y, z)', 'italic 42px "DejaVu Serif"'),
    T(1777, 826, 'dz', 'italic 44px "DejaVu Serif"')
  ]
};

const chart = echarts.init(document.getElementById('c'), null, {renderer:'canvas'});
chart.setOption(option);
</script>
</body></html>
